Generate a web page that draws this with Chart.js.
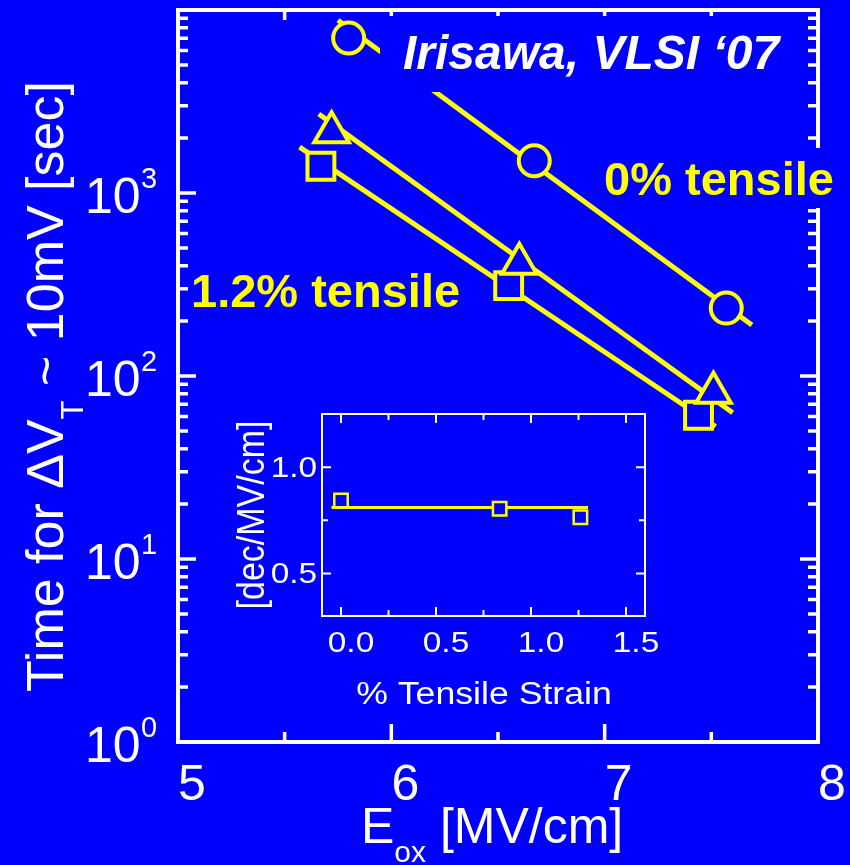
<!DOCTYPE html>
<html>
<head>
<meta charset="utf-8">
<script src="https://cdn.jsdelivr.net/npm/chart.js@4.4.1/dist/chart.umd.min.js"></script>
<style>
  html, body { margin: 0; padding: 0; background: #0000ff; }
  #wrap { position: relative; width: 850px; height: 865px; overflow: hidden; }
  #main { position: absolute; left: 0; top: 0; }
  #inset { position: absolute; left: 220px; top: 400px; }
</style>
</head>
<body>
<div id="wrap">
  <canvas id="main" width="850" height="865"></canvas>
  <canvas id="inset" width="440" height="310"></canvas>
</div>
<script>
const BLUE = '#0000ff';
const YELLOW = '#ffff00';
const WHITE = '#ffffff';
const FONT = '"Liberation Sans", Arial, sans-serif';

// main plot: time to reach 10 mV shift vs oxide field
const eoxZero = [5.80, 6.67, 7.57];
const timeZero = [7030, 1500, 235];
const eoxMid = [5.72, 6.60, 7.51];
const timeMid = [2150, 410, 81];
const eoxHigh = [5.67, 6.55, 7.44];
const timeHigh = [1400, 312, 61];

// fitted lines (end points)
const fitZeroX = [5.75, 7.69];
const fitZeroY = [8800, 190];
const fitMidX = [5.66, 7.60];
const fitMidY = [2700, 63];
const fitHighX = [5.57, 7.52];
const fitHighY = [1780, 53];

const xTicks = [5, 6, 7, 8];
const xMinor = [5.5, 6.5, 7.5];
const yTicks = [1, 10, 100, 1000];
const yExp = ['0', '1', '2', '3'];

// inset: slope vs strain
const strain = [0, 0.835, 1.26];
const slope = [0.843, 0.804, 0.764];
const slopeFitX = [-0.05, 1.3];
const slopeFitY = [0.81, 0.81];
const insetXTicks = [0, 0.5, 1.0, 1.5];
const insetXLabels = ['0.0', '0.5', '1.0', '1.5'];
const insetXMinor = [0.25, 0.75, 1.25];
const insetYTicks = [0.5, 1.0];
const insetYLabels = ['0.5', '1.0'];
const insetYMinor = [0.75];

const pts = (xs, ys) => xs.map((x, i) => ({ x: x, y: ys[i] }));

function marker(xs, ys, style, r, w) {
  return {
    data: pts(xs, ys), showLine: false,
    pointStyle: style, pointRadius: r, pointHoverRadius: r,
    pointBorderWidth: w, pointBorderColor: YELLOW, pointBackgroundColor: BLUE
  };
}
function fit(xs, ys, w) {
  return { data: pts(xs, ys), showLine: true, borderColor: YELLOW, borderWidth: w, pointRadius: 0 };
}

function wideText(ctx, text, x, y, align, sx) {
  ctx.save();
  ctx.translate(x, y);
  ctx.scale(sx, 1);
  ctx.textAlign = align;
  ctx.fillText(text, 0, 0);
  ctx.restore();
}

const mainDecor = {
  id: 'mainDecor',
  beforeDatasetsDraw(chart) {
    const { ctx, chartArea: a } = chart;
    const x = chart.scales.x, y = chart.scales.y;
    ctx.save();
    ctx.strokeStyle = WHITE;
    ctx.lineWidth = 4;
    ctx.strokeRect(a.left, a.top, a.right - a.left, a.bottom - a.top);
    ctx.lineWidth = 3.5;
    ctx.beginPath();
    const tickX = (v, len) => {
      const p = x.getPixelForValue(v);
      ctx.moveTo(p, a.bottom); ctx.lineTo(p, a.bottom - len);
      ctx.moveTo(p, a.top); ctx.lineTo(p, a.top + len);
    };
    const tickY = (v, len) => {
      const p = y.getPixelForValue(v);
      ctx.moveTo(a.left, p); ctx.lineTo(a.left + len, p);
      ctx.moveTo(a.right, p); ctx.lineTo(a.right - len, p);
    };
    xTicks.forEach(v => tickX(v, 18));
    xMinor.forEach(v => tickX(v, 10));
    yTicks.forEach(d => {
      tickY(d, 18);
      for (let m = 2; m <= 9; m++) tickY(d * m, 10);
    });
    ctx.stroke();
    ctx.restore();
  },
  afterDatasetsDraw(chart) {
    const { ctx } = chart;
    const x = chart.scales.x, y = chart.scales.y;
    ctx.save();
    // label boxes hide what is behind them
    ctx.fillStyle = BLUE;
    ctx.fillRect(380, 16, 420, 76);
    ctx.fillRect(598, 148, 248, 60);

    ctx.textBaseline = 'alphabetic';
    ctx.textAlign = 'left';
    ctx.fillStyle = WHITE;
    ctx.font = 'italic bold 48px ' + FONT;
    ctx.fillText('Irisawa, VLSI \u201807', 403, 69);
    ctx.fillStyle = YELLOW;
    ctx.font = 'bold 47px ' + FONT;
    ctx.fillText('0% tensile', 604, 195);
    ctx.fillText('1.2% tensile', 191, 307);

    // tick labels
    ctx.fillStyle = WHITE;
    ctx.font = '50px ' + FONT;
    ctx.textAlign = 'center';
    xTicks.forEach(v => ctx.fillText(String(v), x.getPixelForValue(v) + 14, 800));
    ctx.textAlign = 'left';
    yTicks.forEach((v, i) => {
      const p = y.getPixelForValue(v);
      ctx.font = '50px ' + FONT;
      ctx.fillText('10', 85, p + 20);
      ctx.font = '29px ' + FONT;
      ctx.fillText(yExp[i], 141, p - 5);
    });

    // x title
    ctx.font = '50px ' + FONT;
    let w = 361;
    ctx.fillText('E', w, 843);
    w += ctx.measureText('E').width;
    ctx.font = '30px ' + FONT;
    ctx.fillText('ox', w, 862);
    w += ctx.measureText('ox').width;
    ctx.font = '50px ' + FONT;
    ctx.fillText(' [MV/cm]', w, 843);

    // y title
    ctx.translate(63, 692);
    ctx.rotate(-Math.PI / 2);
    ctx.font = '52px ' + FONT;
    ctx.fillText('Time for \u0394V', 0, 0);
    w = ctx.measureText('Time for \u0394V').width;
    ctx.font = '31px ' + FONT;
    ctx.fillText('T', w, 20);
    w += ctx.measureText('T').width;
    ctx.font = '52px ' + FONT;
    ctx.fillText(' ~ 10mV [sec]', w, 0);
    ctx.restore();
  }
};

new Chart(document.getElementById('main'), {
  type: 'scatter',
  data: {
    datasets: [
      marker(eoxZero, timeZero, 'circle', 15.5, 4),
      marker(eoxMid, timeMid, 'triangle', 20, 4),
      marker(eoxHigh, timeHigh, 'rect', 19, 4),
      fit(fitZeroX, fitZeroY, 5),
      fit(fitMidX, fitMidY, 5),
      fit(fitHighX, fitHighY, 5)
    ]
  },
  options: {
    responsive: false,
    animation: false,
    events: [],
    layout: { autoPadding: false, padding: { left: 178, right: 32, top: 10, bottom: 123 } },
    scales: {
      x: { type: 'linear', min: 5, max: 8, display: false },
      y: { type: 'logarithmic', min: 1, max: 10000, display: false }
    },
    plugins: { legend: { display: false }, tooltip: { enabled: false } }
  },
  plugins: [mainDecor]
});

const insetDecor = {
  id: 'insetDecor',
  beforeDatasetsDraw(chart) {
    const { ctx, chartArea: a } = chart;
    const x = chart.scales.x, y = chart.scales.y;
    ctx.save();
    ctx.strokeStyle = WHITE;
    ctx.lineWidth = 2;
    ctx.strokeRect(a.left, a.top, a.right - a.left, a.bottom - a.top);
    ctx.beginPath();
    const tickX = (v, len) => {
      const p = x.getPixelForValue(v);
      ctx.moveTo(p, a.bottom); ctx.lineTo(p, a.bottom - len);
      ctx.moveTo(p, a.top); ctx.lineTo(p, a.top + len);
    };
    const tickY = (v, len) => {
      const p = y.getPixelForValue(v);
      ctx.moveTo(a.left, p); ctx.lineTo(a.left + len, p);
      ctx.moveTo(a.right, p); ctx.lineTo(a.right - len, p);
    };
    insetXTicks.forEach(v => tickX(v, 9));
    insetXMinor.forEach(v => tickX(v, 6));
    insetYTicks.forEach(v => tickY(v, 9));
    insetYMinor.forEach(v => tickY(v, 6));
    ctx.stroke();
    ctx.restore();
  },
  afterDraw(chart) {
    const { ctx } = chart;
    const x = chart.scales.x, y = chart.scales.y;
    ctx.save();
    ctx.fillStyle = WHITE;
    ctx.textBaseline = 'alphabetic';
    ctx.font = '29px ' + FONT;
    insetXTicks.forEach((v, i) => wideText(ctx, insetXLabels[i], x.getPixelForValue(v) + 10, 252, 'center', 1.15));
    insetYTicks.forEach((v, i) => wideText(ctx, insetYLabels[i], 97, y.getPixelForValue(v) + 10, 'right', 1.15));
    ctx.font = '31px ' + FONT;
    wideText(ctx, '% Tensile Strain', 264, 304, 'center', 1.15);
    ctx.font = '34px ' + FONT;
    ctx.translate(44, 115);
    ctx.scale(1.15, 1);
    ctx.rotate(-Math.PI / 2);
    ctx.textAlign = 'center';
    ctx.fillText('[dec/MV/cm]', 0, 0);
    ctx.restore();
  }
};

new Chart(document.getElementById('inset'), {
  type: 'scatter',
  data: {
    datasets: [
      marker(strain, slope, 'rect', 9.5, 2.5),
      fit(slopeFitX, slopeFitY, 3)
    ]
  },
  options: {
    responsive: false,
    animation: false,
    events: [],
    layout: { autoPadding: false, padding: { left: 102, right: 15, top: 14, bottom: 94 } },
    scales: {
      x: { type: 'linear', min: -0.1, max: 1.6, display: false },
      y: { type: 'linear', min: 0.3, max: 1.25, display: false }
    },
    plugins: { legend: { display: false }, tooltip: { enabled: false } }
  },
  plugins: [insetDecor]
});
</script>
</body>
</html>
